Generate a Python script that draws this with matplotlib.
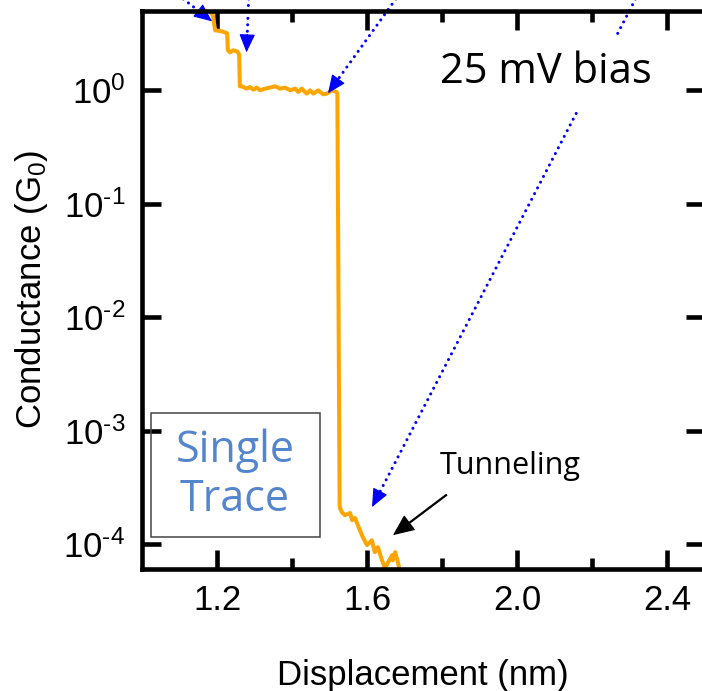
import matplotlib
matplotlib.use('Agg')
import numpy as np
import matplotlib.pyplot as plt
from matplotlib.patches import Rectangle
from matplotlib.ticker import FixedLocator, NullLocator, FixedFormatter

plt.rcParams['font.family'] = ['Liberation Sans', 'DejaVu Sans']
plt.rcParams['mathtext.fontset'] = 'custom'
plt.rcParams['mathtext.rm'] = 'Liberation Sans'
plt.rcParams['mathtext.it'] = 'Liberation Sans:italic'
plt.rcParams['mathtext.default'] = 'regular'

# ---------------- data ----------------
displacement = [1.179, 1.189, 1.195, 1.213, 1.227, 1.229, 1.235, 1.243, 1.253, 1.259,
                1.261, 1.266, 1.279, 1.288, 1.297, 1.306, 1.315, 1.328, 1.341, 1.355,
                1.368, 1.381, 1.395, 1.408, 1.417, 1.426, 1.439, 1.448, 1.457, 1.470,
                1.483, 1.493, 1.506, 1.519, 1.521, 1.527, 1.528, 1.533, 1.541, 1.555,
                1.560, 1.568, 1.581, 1.589, 1.600, 1.613, 1.621, 1.629, 1.640, 1.648,
                1.656, 1.667, 1.669, 1.675, 1.683, 1.688]
conductance = [5.07, 4.58, 3.38, 3.31, 3.18, 2.25, 2.16, 2.25, 2.21, 2.08,
               1.084, 1.084, 1.035, 1.069, 1.014, 1.056, 1.0, 1.035, 1.056, 1.084,
               1.035, 1.056, 1.0, 1.035, 0.966, 1.035, 0.935, 1.0, 0.935, 1.0,
               0.922, 0.935, 1.0, 0.966, 0.922, 2.21e-4, 2.08e-4, 1.91e-4, 1.80e-4, 1.88e-4,
               1.63e-4, 1.70e-4, 1.33e-4, 1.15e-4, 9.8e-5, 1.08e-4, 8.5e-5, 9.4e-5, 7.2e-5, 6.1e-5,
               6.9e-5, 8.0e-5, 7.2e-5, 8.5e-5, 6.8e-5, 5.7e-5]

x_major = [1.2, 1.6, 2.0, 2.4]
x_major_labels = ['1.2', '1.6', '2.0', '2.4']
x_minor = [1.4, 1.8, 2.2]
y_major = [1e-4, 1e-3, 1e-2, 1e-1, 1e0]
y_major_labels = [r'$10^{\text{-}4}$', r'$10^{\text{-}3}$', r'$10^{\text{-}2}$',
                  r'$10^{\text{-}1}$', r'$10^{0}$']

# ---------------- figure ----------------
W, H = 702, 691
fig = plt.figure(figsize=(W / 100, H / 100), dpi=100)
left_px, right_px, top_px, bot_px = 142, 704.5, 11, 568.5
ax = fig.add_axes([left_px / W, (H - bot_px) / H, (right_px - left_px) / W, (bot_px - top_px) / H])

ax.plot(displacement, conductance, color='#ffa500', lw=2.9, zorder=3,
        solid_joinstyle='round')

ax.set_yscale('log')
ax.set_xlim(1.0, 2.5)
ax.set_ylim(6.1e-5, 5.0)

for s in ax.spines.values():
    s.set_linewidth(3.3)
    s.set_zorder(6)

ax.xaxis.set_major_locator(FixedLocator(x_major))
ax.xaxis.set_major_formatter(FixedFormatter(x_major_labels))
ax.xaxis.set_minor_locator(FixedLocator(x_minor))
ax.yaxis.set_major_locator(FixedLocator(y_major))
ax.yaxis.set_major_formatter(FixedFormatter(y_major_labels))
ax.yaxis.set_minor_locator(NullLocator())

ax.tick_params(which='both', direction='in', top=True, right=True, width=3.3, color='black')
ax.tick_params(which='major', length=14)
ax.tick_params(which='minor', length=8)
ax.tick_params(axis='x', which='major', labelsize=25, pad=11)
ax.tick_params(axis='y', which='major', labelsize=25, pad=12)

ax.set_xlabel('Displacement (nm)', fontsize=25)
ax.xaxis.set_label_coords(0.5, -0.162)
ax.set_ylabel(r'Conductance (G$_0$)', fontsize=25)
ax.yaxis.set_label_coords(-0.164, 0.5)

# Single Trace box
ax.add_patch(Rectangle((1.024, 1.15e-4), 1.475 - 1.024, 1.43e-3 - 1.15e-4,
                       fill=False, edgecolor='#444444', lw=1.1, zorder=4))
comic = ['Open Sans', 'DejaVu Sans']
ax.text(1.248, 4.05e-4, 'Single\nTrace', color='#5585cc', fontsize=31, family=comic,
        ha='center', va='center', linespacing=1.12, zorder=5)

ax.text(1.795, 4.14e-4, 'Tunneling', color='black', fontsize=22, family=comic,
        ha='left', va='baseline', zorder=5)

ax.text(2.077, 1.153, '25 mV bias', color='black', fontsize=30, family=comic,
        ha='center', va='baseline', zorder=7,
        bbox=dict(boxstyle='square,pad=0.4', facecolor='white', edgecolor='none'))


def arrow(start, tip, color, dotted, head_len_px, head_w, lw):
    tr = ax.transData
    p0 = np.array(tr.transform(start))
    p1 = np.array(tr.transform(tip))
    d = p1 - p0
    L = np.hypot(*d)
    base = p1 - d / L * head_len_px
    base_data = tr.inverted().transform(base)
    if dotted:
        ax.plot([start[0], base_data[0]], [start[1], base_data[1]], color=color, lw=lw,
                linestyle=(0, (0.01, 2.1)), dash_capstyle='round', clip_on=False, zorder=6)
    else:
        ax.plot([start[0], base_data[0]], [start[1], base_data[1]], color=color, lw=lw,
                clip_on=False, zorder=6)
    back = p1 - d / L * (head_len_px + 2)
    back_data = tr.inverted().transform(back)
    hl = head_len_px * 72 / 100 / 10
    ax.annotate('', xy=tip, xytext=tuple(back_data), annotation_clip=False, zorder=6,
                arrowprops=dict(arrowstyle=f'-|>,head_length={hl:.3f},head_width={head_w}',
                                color=color, lw=0.8, shrinkA=0, shrinkB=0,
                                mutation_scale=10))


# blue dotted arrows (from outside the plot)
blue_arrows = [((1.0736, 7.92), (1.187, 4.05)),
               ((1.2853, 7.6), (1.2787, 2.16)),
               ((1.6933, 7.6), (1.496, 0.941)),
               ((2.328, 7.6), (1.6133, 2.12e-4))]
for start, tip in blue_arrows:
    arrow(start, tip, '#0000ff', True, 16, 0.5, 2.2)

arrow((1.8107, 2.70e-4), (1.6693, 1.20e-4), 'black', False, 19, 0.6, 1.6)

fig.savefig('out.png', dpi=100)
